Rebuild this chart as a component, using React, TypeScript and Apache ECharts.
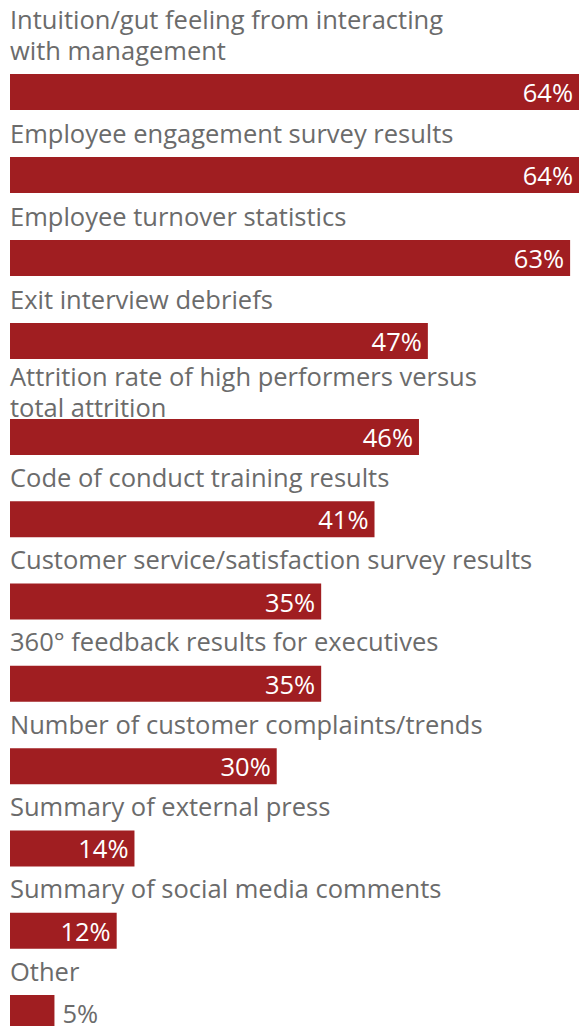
import React, { useEffect, useRef } from "react";
import * as echarts from "echarts";

const categories: string[] = [
  "Intuition/gut feeling from interacting\nwith management",
  "Employee engagement survey results",
  "Employee turnover statistics",
  "Exit interview debriefs",
  "Attrition rate of high performers versus\ntotal attrition",
  "Code of conduct training results",
  "Customer service/satisfaction survey results",
  "360° feedback results for executives",
  "Number of customer complaints/trends",
  "Summary of external press",
  "Summary of social media comments",
  "Other",
];
const values: number[] = [64, 64, 63, 47, 46, 41, 35, 35, 30, 14, 12, 5];

// layout / style constants
const splitAt = 4;
const compactLabelIndex = 4; // label squeezed close to its bar in the original
const BAR_COLOR = "#a01e21";
const TEXT_COLOR = "#6b6b6b";
const FONT = "'Open Sans', 'Liberation Sans', Arial, sans-serif";
const FONT_SIZE = 25.5;
const LINE_H = 31;

export default function App() {
  const ref = useRef<HTMLDivElement>(null);
  useEffect(() => {
    if (!ref.current) return;
    const chart = echarts.init(ref.current, undefined, { renderer: "svg" });
    const maxV = Math.max(...values);
    const groups = [
      { start: 0, cats: categories.slice(0, splitAt), vals: values.slice(0, splitAt), top: 50.5, band: 83 },
      { start: splitAt, cats: categories.slice(splitAt), vals: values.slice(splitAt), top: 395.8, band: 82.3 },
    ];
    const grids = groups.map((g) => ({
      left: 10,
      right: 0,
      top: g.top,
      height: g.band * g.cats.length,
      containLabel: false,
    }));
    const xAxes = groups.map((_, i) => ({
      type: "value",
      gridIndex: i,
      min: 0,
      max: maxV,
      show: false,
    }));
    const yAxes = groups.map((g, i) => ({
      type: "category",
      gridIndex: i,
      data: g.cats,
      inverse: true,
      axisLine: { show: false },
      axisTick: { show: false },
      splitLine: { show: false },
      axisLabel: {
        inside: true,
        interval: 0,
        margin: 0,
        color: TEXT_COLOR,
        fontSize: FONT_SIZE,
        fontFamily: FONT,
        align: "left",
        verticalAlign: "bottom",
        lineHeight: LINE_H,
        padding: [0, 0, 14, 0],
        formatter: (val: string, idx: number) => {
          const lines = val
            .split("\n")
            .map((l) => `{t|${l}}`)
            .join("\n");
          return g.start + idx === compactLabelIndex ? lines : lines + "\n{sp| }";
        },
        rich: {
          t: {
            fontSize: FONT_SIZE,
            fontFamily: FONT,
            color: TEXT_COLOR,
            lineHeight: LINE_H,
          },
          sp: { fontSize: 2, lineHeight: 13 },
        },
      },
    }));
    const series = groups.map((g, i) => ({
      type: "bar",
      xAxisIndex: i,
      yAxisIndex: i,
      barWidth: 36,
      itemStyle: { color: BAR_COLOR },
      data: g.vals.map((v) =>
        v < 10
          ? {
              value: v,
              label: { position: "right", color: TEXT_COLOR, distance: 8 },
            }
          : { value: v }
      ),
      label: {
        show: true,
        position: "insideRight",
        distance: 6,
        color: "#ffffff",
        fontSize: FONT_SIZE,
        fontFamily: FONT,
        formatter: "{c}%",
      },
    }));
    chart.setOption({
      animation: false,
      backgroundColor: "#ffffff",
      grid: grids,
      xAxis: xAxes,
      yAxis: yAxes,
      series,
    });
    return () => chart.dispose();
  }, []);
  return (
    <div
      style={{
        position: "absolute",
        left: 0,
        top: 0,
        width: 579,
        height: 1026,
        overflow: "hidden",
        background: "#ffffff",
      }}
    >
      <div ref={ref} style={{ width: 579, height: 1080 }} />
    </div>
  );
}
